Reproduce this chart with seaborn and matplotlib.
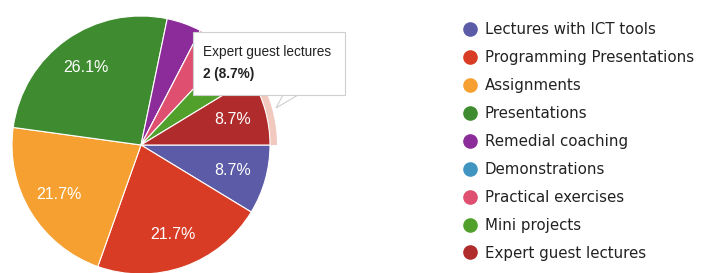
import matplotlib
matplotlib.use("Agg")
import matplotlib.pyplot as plt
from matplotlib.patches import Wedge, FancyBboxPatch, Polygon
from matplotlib.lines import Line2D
import seaborn as sns

categories = [
    "Lectures with ICT tools",
    "Programming Presentations",
    "Assignments",
    "Presentations",
    "Remedial coaching",
    "Demonstrations",
    "Practical exercises",
    "Mini projects",
    "Expert guest lectures",
]
counts = [2, 5, 5, 6, 1, 0, 1, 1, 2]
colors = [
    "#5b5ba8", "#d83c24", "#f5a030", "#3f8c30", "#8c2c9a",
    "#3f95c0", "#de4f70", "#52a02c", "#b02c2c",
]
tooltip_idx = 8

sns.set_theme(style="white")
plt.rcParams["font.family"] = ["Liberation Sans", "DejaVu Sans"]

fig = plt.figure(figsize=(7.02, 2.73), dpi=100)
ax = fig.add_axes([0, 0, 1, 1])

total = sum(counts)
cx, cy, r = 141, 128, 129


def fmt(p):
    return f"{p:.1f}%" if p >= 5 else ""


wedges, _, autotexts = ax.pie(
    counts,
    colors=colors,
    startangle=0,
    counterclock=False,
    center=(cx, cy),
    radius=r,
    autopct=fmt,
    pctdistance=0.74,
    wedgeprops=dict(edgecolor="white", linewidth=0.8),
    textprops=dict(color="white", fontsize=11.5),
    frame=True,
)
ax.set_xlim(0, 702)
ax.set_ylim(0, 273)
ax.axis("off")

# hover ring around the highlighted slice
w = wedges[tooltip_idx]
ax.add_patch(Wedge((cx, cy), r + 7, w.theta1, w.theta2, width=7,
                   facecolor="#f1c9bf", edgecolor="none", zorder=0.5))

# tooltip
ax.add_patch(Polygon([(283, 273 - 95), (298, 273 - 95), (276, 273 - 108)],
                     closed=True, facecolor="white", edgecolor="#cfcfcf",
                     linewidth=0.8, zorder=5))
ax.add_patch(FancyBboxPatch((193, 273 - 95), 152, 63,
                            boxstyle="square,pad=0", facecolor="white",
                            edgecolor="#cfcfcf", linewidth=0.8, zorder=6))
pct = 100 * counts[tooltip_idx] / total
ax.text(203, 273 - 52, categories[tooltip_idx], fontsize=9.8,
        color="#222222", va="center", ha="left", zorder=7)
ax.text(203, 273 - 74, f"{counts[tooltip_idx]} ({pct:.1f}%)", fontsize=9.8,
        fontweight="bold", color="#222222", va="center", ha="left", zorder=7)

handles = [
    Line2D([0], [0], marker="o", linestyle="none", markersize=9.5,
           markerfacecolor=c, markeredgecolor=c)
    for c in colors
]
leg = ax.legend(
    handles, categories,
    loc="upper left",
    bbox_to_anchor=(455 / 702, 1 - 15 / 273),
    frameon=False,
    prop=dict(family="DejaVu Sans", size=10.8),
    labelspacing=0.86,
    handletextpad=0.5,
    handlelength=1.0,
    borderpad=0,
)
for t in leg.get_texts():
    t.set_color("#222222")

fig.savefig("out.png", dpi=100)
